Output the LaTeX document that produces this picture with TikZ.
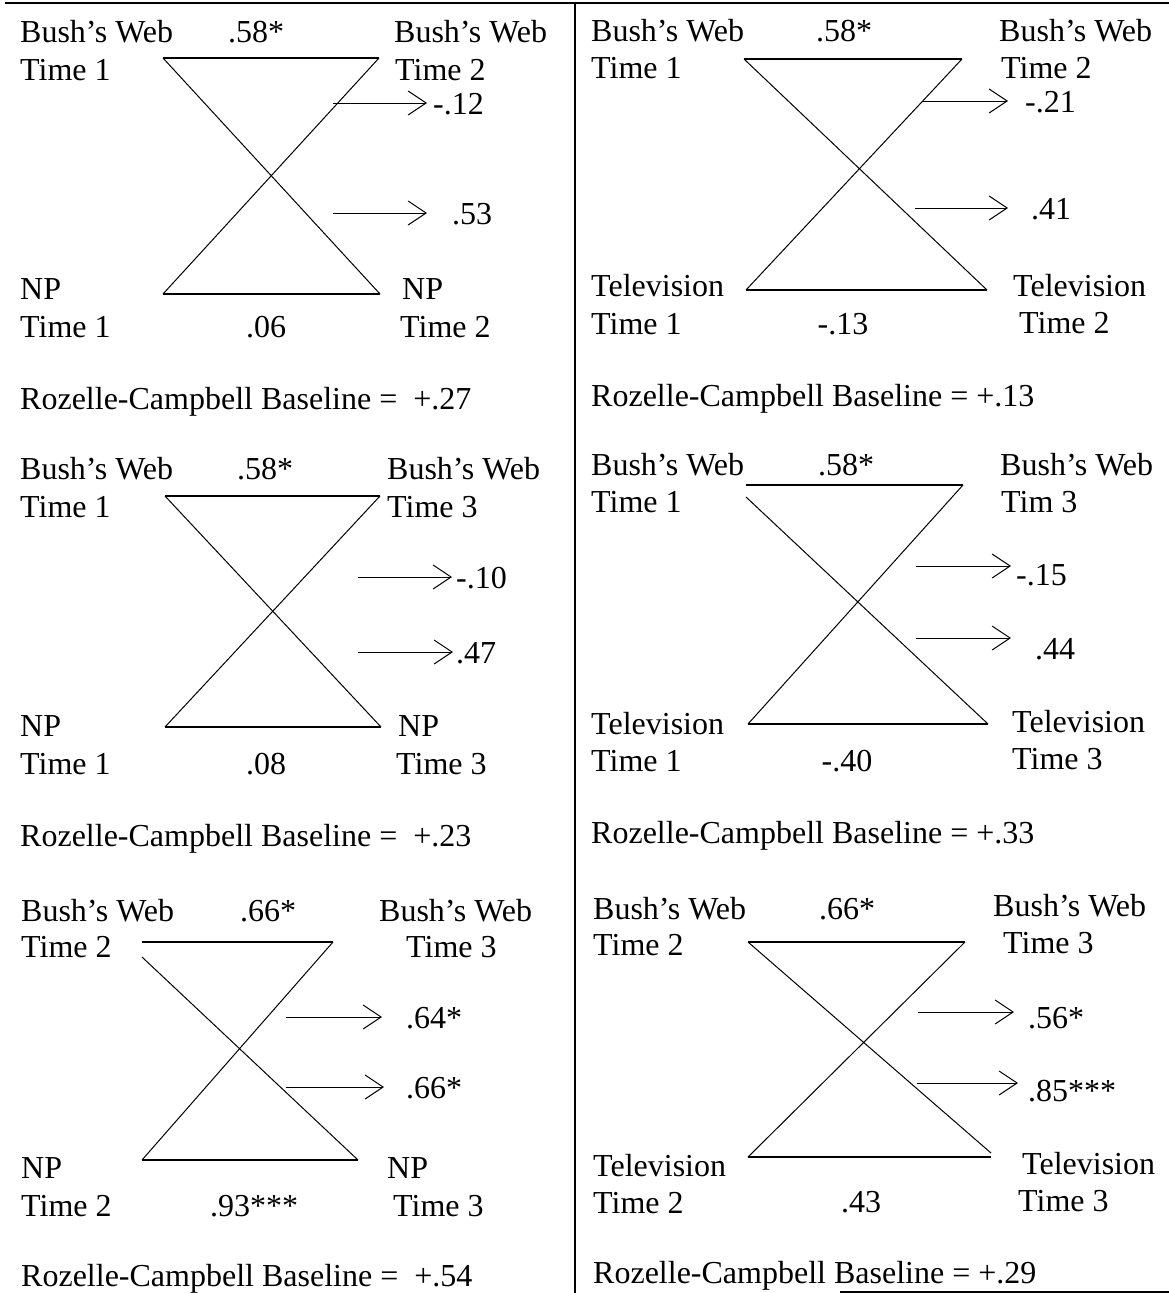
\documentclass[tikz,border=0pt]{standalone}
\usepackage{fontspec}
\setmainfont{Liberation Serif}
\usetikzlibrary{arrows.meta, calc}
\tikzset{
  txt/.style      = {font=\fontsize{32}{38}\selectfont, inner sep=0pt,
                     anchor=base west},
  coef/.style     = {txt, anchor=base},
  toprule/.style  = {line width=2.4pt},
  divline/.style  = {line width=1.4pt},
  corrbar/.style  = {line width=1.5pt},
  crossln/.style  = {line width=1pt},
  effarrow/.style = {-{Straight Barb[length=18pt,width=24pt]},
                     line width=1pt, shorten >=5pt},
}

\begin{document}
\begin{tikzpicture}[x=1pt, y=-1pt]
  \useasboundingbox (0,0) rectangle (1169,1293);

  % frame
  \coordinate (fl) at (5,3);
  \coordinate (fr) at (1169,3);
  \coordinate (dt) at (575,3);
  \coordinate (db) at (575,1293);
  \coordinate (bl) at (840,1292);
  \coordinate (br) at (1169,1292);
  \draw[toprule] (fl) -- (fr);
  \draw[divline] (dt) -- (db);
  \draw[line width=1.2pt] (bl) -- (br);

  % web T1 -> T2, NP
  \node[txt]  (aUL1) at (20,42)   {Bush's Web};
  \node[txt]  (aUL2) at (20,80)   {Time 1};
  \node[coef] (aTop) at (256,42)  {.58*};
  \node[txt]  (aUR1) at (394,42)  {Bush's Web};
  \node[txt]  (aUR2) at (395,80)  {Time 2};
  \node[txt]  (aLL1) at (20,299)  {NP};
  \node[txt]  (aLL2) at (20,337)  {Time 1};
  \node[coef] (aBot) at (266,337) {.06};
  \node[txt]  (aLR1) at (402,299) {NP};
  \node[txt]  (aLR2) at (400,337) {Time 2};
  \node[txt]  (aE1)  at (433,114) {-.12};
  \node[txt]  (aE2)  at (452,224) {.53};
  \node[txt]  (aRC)  at (20,409)  {Rozelle-Campbell Baseline = \ +.27};
  \coordinate (aNW) at (163,58);  \coordinate (aNE) at (379,58);
  \coordinate (aSW) at (163,294); \coordinate (aSE) at (380,294);
  \coordinate (aA1) at (333,103); \coordinate (aA2) at (333,213);
  \draw[corrbar] (aNW) -- (aNE);
  \draw[corrbar] (aSW) -- (aSE);
  \draw[crossln] (aNW) -- (aSE);
  \draw[crossln] (aNE) -- (aSW);
  \draw[effarrow, shorten >=6pt]  (aA1) -- (aA1 -| aE1.west);
  \draw[effarrow, shorten >=25pt] (aA2) -- (aA2 -| aE2.west);

  % web T1 -> T3, NP
  \node[txt]  (bUL1) at (20,479)  {Bush's Web};
  \node[txt]  (bUL2) at (20,517)  {Time 1};
  \node[coef] (bTop) at (265,479) {.58*};
  \node[txt]  (bUR1) at (387,479) {Bush's Web};
  \node[txt]  (bUR2) at (387,517) {Time 3};
  \node[txt]  (bLL1) at (20,736)  {NP};
  \node[txt]  (bLL2) at (20,774)  {Time 1};
  \node[coef] (bBot) at (266,774) {.08};
  \node[txt]  (bLR1) at (398,736) {NP};
  \node[txt]  (bLR2) at (396,774) {Time 3};
  \node[txt]  (bE1)  at (456,588) {-.10};
  \node[txt]  (bE2)  at (456,663) {.47};
  \node[txt]  (bRC)  at (20,846)  {Rozelle-Campbell Baseline = \ +.23};
  \coordinate (bNW) at (165,496); \coordinate (bNE) at (380,496);
  \coordinate (bSW) at (165,727); \coordinate (bSE) at (381,727);
  \coordinate (bA1) at (358,577); \coordinate (bA2) at (358,652);
  \draw[corrbar] (bNW) -- (bNE);
  \draw[corrbar] (bSW) -- (bSE);
  \draw[crossln] (bNW) -- (bSE);
  \draw[crossln] (bNE) -- (bSW);
  \draw[effarrow, shorten >=4pt] (bA1) -- (bA1 -| bE1.west);
  \draw[effarrow, shorten >=3pt] (bA2) -- (bA2 -| bE2.west);

  % web T2 -> T3, NP
  \node[txt]  (cUL1) at (21,921)   {Bush's Web};
  \node[txt]  (cUL2) at (21,957)   {Time 2};
  \node[coef] (cTop) at (268,921)  {.66*};
  \node[txt]  (cUR1) at (379,921)  {Bush's Web};
  \node[txt]  (cUR2) at (406,957)  {Time 3};
  \node[txt]  (cLL1) at (21,1178)  {NP};
  \node[txt]  (cLL2) at (21,1216)  {Time 2};
  \node[coef] (cBot) at (254,1216) {.93***};
  \node[txt]  (cLR1) at (387,1178) {NP};
  \node[txt]  (cLR2) at (393,1216) {Time 3};
  \node[txt]  (cE1)  at (406,1028) {.64*};
  \node[txt]  (cE2)  at (406,1098) {.66*};
  \node[txt]  (cRC)  at (21,1286)  {Rozelle-Campbell Baseline = \ +.54};
  \coordinate (cNW) at (142,942);  \coordinate (cNE) at (333,942);
  \coordinate (cNWd) at (142,957);
  \coordinate (cSW) at (142,1160); \coordinate (cSE) at (358,1160);
  \coordinate (cA1) at (286,1017); \coordinate (cA2) at (286,1087);
  \draw[corrbar] (cNW) -- (cNE);
  \draw[corrbar] (cSW) -- (cSE);
  \draw[crossln] (cNWd) -- (cSE);
  \draw[crossln] (cNE) -- (cSW);
  \draw[effarrow, shorten >=24pt] (cA1) -- (cA1 -| cE1.west);
  \draw[effarrow, shorten >=22pt] (cA2) -- (cA2 -| cE2.west);

  % web T1 -> T2, television
  \node[txt]  (dUL1) at (591,41)   {Bush's Web};
  \node[txt]  (dUL2) at (591,78)   {Time 1};
  \node[coef] (dTop) at (844,41)   {.58*};
  \node[txt]  (dUR1) at (999,41)   {Bush's Web};
  \node[txt]  (dUR2) at (1001,78)  {Time 2};
  \node[txt]  (dLL1) at (591,296)  {Television};
  \node[txt]  (dLL2) at (591,334)  {Time 1};
  \node[coef] (dBot) at (843,334)  {-.13};
  \node[txt]  (dLR1) at (1013,296) {Television};
  \node[txt]  (dLR2) at (1019,333) {Time 2};
  \node[txt]  (dE1)  at (1025,112) {-.21};
  \node[txt]  (dE2)  at (1031,219) {.41};
  \node[txt]  (dRC)  at (591,406)  {Rozelle-Campbell Baseline = +.13};
  \coordinate (dNW) at (744,59);  \coordinate (dNE) at (962,59);
  \coordinate (dSW) at (746,290); \coordinate (dSE) at (987,290);
  \coordinate (dA1) at (922,101); \coordinate (dA2) at (915,208);
  \draw[corrbar] (dNW) -- (dNE);
  \draw[corrbar] (dSW) -- (dSE);
  \draw[crossln] (dNW) -- (dSE);
  \draw[crossln] (dNE) -- (dSW);
  \draw[effarrow, shorten >=17pt] (dA1) -- (dA1 -| dE1.west);
  \draw[effarrow, shorten >=23pt] (dA2) -- (dA2 -| dE2.west);

  % web T1 -> T3, television
  \node[txt]  (eUL1) at (591,475)  {Bush's Web};
  \node[txt]  (eUL2) at (591,512)  {Time 1};
  \node[coef] (eTop) at (846,475)  {.58*};
  \node[txt]  (eUR1) at (1000,475) {Bush's Web};
  \node[txt]  (eUR2) at (1001,512) {Tim 3};
  \node[txt]  (eLL1) at (591,734)  {Television};
  \node[txt]  (eLL2) at (591,771)  {Time 1};
  \node[coef] (eBot) at (847,771)  {-.40};
  \node[txt]  (eLR1) at (1012,732) {Television};
  \node[txt]  (eLR2) at (1012,769) {Time 3};
  \node[txt]  (eE1)  at (1016,585) {-.15};
  \node[txt]  (eE2)  at (1035,659) {.44};
  \node[txt]  (eRC)  at (591,843)  {Rozelle-Campbell Baseline = +.33};
  \coordinate (eNW) at (746,485);  \coordinate (eNE) at (963,485);
  \coordinate (eNWd) at (746,497);
  \coordinate (eSW) at (748,724);  \coordinate (eSE) at (988,724);
  \coordinate (eA1) at (916,566);  \coordinate (eA2) at (916,638);
  \draw[corrbar] (eNW) -- (eNE);
  \draw[corrbar] (eSW) -- (eSE);
  \draw[crossln] (eNWd) -- (eSE);
  \draw[crossln] (eNE) -- (eSW);
  \draw[effarrow, shorten >=5pt]  (eA1) -- (eA1 -| eE1.west);
  \draw[effarrow, shorten >=24pt] (eA2) -- (eA2 -| eE2.west);

  % web T2 -> T3, television
  \node[txt]  (fUL1) at (593,919)   {Bush's Web};
  \node[txt]  (fUL2) at (593,955)   {Time 2};
  \node[coef] (fTop) at (847,919)   {.66*};
  \node[txt]  (fUR1) at (993,916)   {Bush's Web};
  \node[txt]  (fUR2) at (1003,953)  {Time 3};
  \node[txt]  (fLL1) at (593,1176)  {Television};
  \node[txt]  (fLL2) at (593,1213)  {Time 2};
  \node[coef] (fBot) at (861,1212)  {.43};
  \node[txt]  (fLR1) at (1022,1174) {Television};
  \node[txt]  (fLR2) at (1018,1211) {Time 3};
  \node[txt]  (fE1)  at (1028,1028) {.56*};
  \node[txt]  (fE2)  at (1028,1101) {.85***};
  \node[txt]  (fRC)  at (593,1283)  {Rozelle-Campbell Baseline = +.29};
  \coordinate (fNW) at (748,942);  \coordinate (fNE) at (965,942);
  \coordinate (fSW) at (748,1157); \coordinate (fSE) at (991,1157);
  \coordinate (fSEd) at (991,1153);
  \coordinate (fA1) at (918,1012); \coordinate (fA2) at (917,1083);
  \draw[corrbar] (fNW) -- (fNE);
  \draw[corrbar] (fSW) -- (fSE);
  \draw[crossln] (fNW) -- (fSEd);
  \draw[crossln] (fNE) -- (fSW);
  \draw[effarrow, shorten >=14pt] (fA1) -- (fA1 -| fE1.west);
  \draw[effarrow, shorten >=10pt] (fA2) -- (fA2 -| fE2.west);
\end{tikzpicture}
\end{document}
